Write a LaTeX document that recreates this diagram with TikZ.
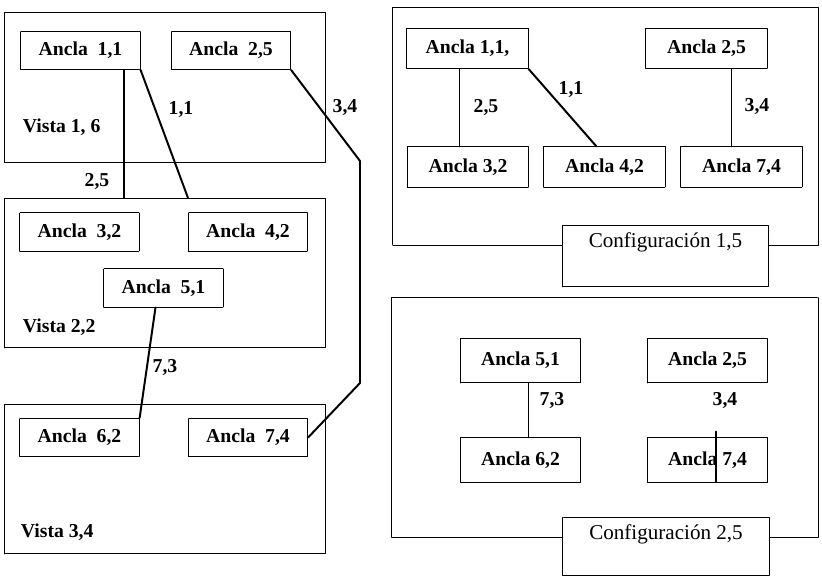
\documentclass[tikz,border=0pt]{standalone}
\usepackage{fontspec}
\setmainfont{Liberation Serif}
\usetikzlibrary{calc}

\begin{document}
\begin{tikzpicture}[x=0.025cm,y=-0.025cm,line cap=round,line join=round,
  font=\fontsize{14}{16}\selectfont,
  marco/.style={draw,line width=.7pt,dash pattern=on 1.1pt off .5pt},
  ancla/.style={marco,font=\fontsize{14}{16}\selectfont\bfseries,inner sep=0pt,
    minimum width=2.98cm,minimum height=.95cm},
  vista/.style={marco,inner sep=0pt,minimum width=8.03cm,minimum height=3.74cm},
  config/.style={marco,fill=white,anchor=north,minimum width=5.15cm,
    font=\fontsize{15}{17}\selectfont,inner ysep=.18cm,text height=.36cm},
  enlace/.style={line width=1.4pt},
  peso/.style={font=\fontsize{14}{16}\selectfont\bfseries}]
  \useasboundingbox (0,0) rectangle (822,582);

  % Vistas.
  \node[vista] (v1) at (165,87.5) {};
  \node[vista] (v2) at (165,273) {};
  \node[vista] (v3) at (165,479) {};
  \node[peso,anchor=west] (tv1) at (18,127) {Vista 1, 6};
  \node[peso,anchor=west] (tv2) at (18,327) {Vista 2,2};
  \node[peso,anchor=west] (tv3) at (16,532) {Vista 3,4};

  \node[ancla] (a11) at (80.5,50.5) {Ancla~~1,1};
  \node[ancla] (a25) at (231,50.5) {Ancla~~2,5};
  \node[ancla] (a32) at (79.5,232) {Ancla~~3,2};
  \node[ancla] (a42) at (248,232) {Ancla~~4,2};
  \node[ancla] (a51) at (163.5,288) {Ancla~~5,1};
  \node[ancla] (a62) at (79.5,437.5) {Ancla~~6,2};
  \node[ancla] (a74) at (248,437.5) {Ancla~~7,4};

  \draw[enlace] ($(a11.south east)+(-17,0)$) coordinate (p1) -- (p1 |- v2.north);
  \draw[enlace] (a11.south east) -- (a42.north west |- v2.north);
  \coordinate (q1) at (360,161);
  \coordinate (q2) at (360,383);
  \draw[enlace] (a25.south east) -- (q1) -- (q2) -- (a74.east);
  \draw[enlace] ($(a51.south)+(-8,0)$) -- (a62.north east);

  \node[peso] (e11) at (181,110) {1,1};
  \node[peso] (e34) at (345,108) {3,4};
  \node[peso] (e25) at (97,182) {2,5};
  \node[peso] (e73) at (165,368) {7,3};

  % Configuracion 1,5.
  \node[marco,minimum width=10.63cm,minimum height=5.93cm] (c1) at (605.5,126.5) {};
  \node[ancla,minimum width=3.03cm,minimum height=1cm] (b11) at (467.5,48.5) {Ancla 1,1,};
  \node[ancla,minimum width=3.03cm,minimum height=1cm] (b25) at (706.5,48.5) {Ancla 2,5};
  \node[ancla,minimum width=3.03cm,minimum height=1cm] (b32) at (468,167) {Ancla 3,2};
  \node[ancla,minimum width=3.03cm,minimum height=1cm] (b42) at (604.5,167) {Ancla 4,2};
  \node[ancla,minimum width=3.03cm,minimum height=1cm] (b74) at (741.5,167) {Ancla 7,4};
  \node[config,text depth=.81cm] (k1) at (665.5,225) {Configuración 1,5};

  \draw[enlace] ($(b11.south)+(-8,0)$) coordinate (p2) -- (p2 |- b32.north);
  \draw[enlace] (b11.south east) -- ($(b42.north)+(-8,0)$);
  \draw[enlace] ($(b25.south)+(25,0)$) coordinate (p3) -- (p3 |- b74.north);

  \node[peso] (f25) at (486,108) {2,5};
  \node[peso] (f11) at (571,90) {1,1};
  \node[peso] (f34) at (757,107) {3,4};

  % Configuracion 2,5.
  \node[marco,minimum width=10.65cm,minimum height=5.98cm] (c2) at (605,417.5) {};
  \node[ancla,minimum width=3cm,minimum height=1.12cm] (s51) at (520.5,360.5) {Ancla 5,1};
  \node[ancla,minimum width=3cm,minimum height=1.12cm] (s25) at (707.5,360.5) {Ancla 2,5};
  \node[ancla,minimum width=3cm,minimum height=1.12cm] (s62) at (520.5,460) {Ancla 6,2};
  \node[ancla,minimum width=3cm,minimum height=1.12cm] (s74) at (707.5,460) {Ancla 7,4};
  \node[config,text depth=.73cm] (k2) at (666,517) {Configuración 2,5};

  \draw[enlace] ($(s51.south)+(8,0)$) coordinate (p4) -- (p4 |- s62.north);
  \draw[enlace] ($(s74.north)+(8.5,-5.5)$) -- ($(s74.south)+(8.5,-1.5)$);

  \node[peso] (g73) at (552,401) {7,3};
  \node[peso] (g34) at (725,401) {3,4};
\end{tikzpicture}
\end{document}
